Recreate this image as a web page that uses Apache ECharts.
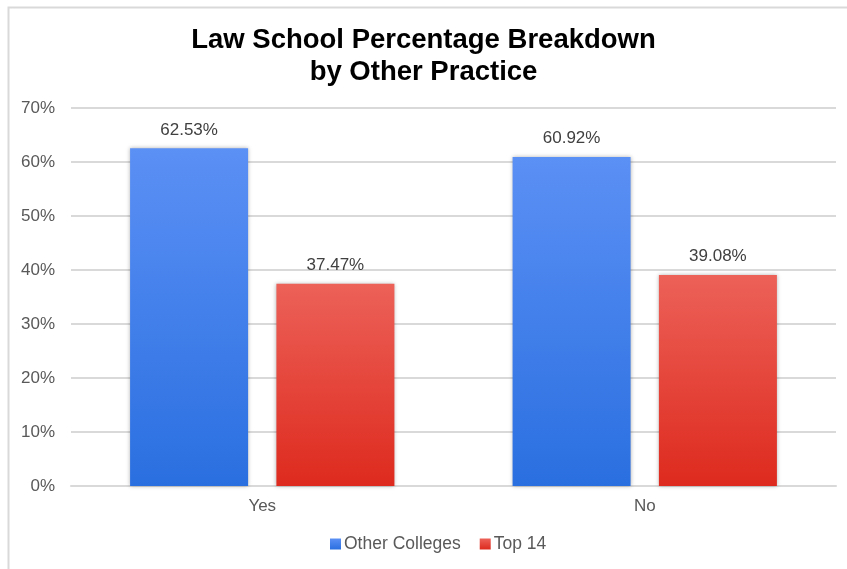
<!DOCTYPE html>
<html>
<head>
<meta charset="utf-8">
<script src="https://cdn.jsdelivr.net/npm/echarts@6/dist/echarts.min.js"></script>
<style>
  html, body { margin: 0; padding: 0; background: #fff; }
  #chart { width: 847px; height: 569px; }
</style>
</head>
<body>
<div id="chart"></div>
<script>
// Share of respondents per answer, by school group
const categories = ['Yes', 'No'];
const otherColleges = [62.53, 60.92];
const top14 = [37.47, 39.08];
const yTicks = [0, 10, 20, 30, 40, 50, 60, 70];

const FONT = '"Liberation Sans", Arial, Helvetica, sans-serif';

function grad(top, bottom) {
  return new echarts.graphic.LinearGradient(0, 0, 0, 1, [
    { offset: 0, color: top },
    { offset: 1, color: bottom }
  ]);
}

const chart = echarts.init(document.getElementById('chart'), null, { renderer: 'canvas' });

const labelStyle = {
  show: true,
  position: 'top',
  distance: 10,
  color: '#404040',
  fontFamily: FONT,
  fontSize: 17,
  formatter: p => p.value.toFixed(2) + '%'
};

chart.setOption({
  animation: false,
  backgroundColor: '#fff',
  graphic: [{
    type: 'rect',
    left: 6, top: 5,
    shape: { width: 900, height: 600 },
    style: { fill: 'none', stroke: '#d9d9d9', lineWidth: 2 },
    silent: true,
    z: -1
  }],
  title: {
    text: 'Law School Percentage Breakdown\nby Other Practice',
    left: 'center',
    top: 19,
    padding: [5, 0, 5, 14],
    textStyle: {
      fontFamily: FONT,
      fontWeight: 'bold',
      fontSize: 27.5,
      color: '#000',
      lineHeight: 32
    }
  },
  legend: {
    bottom: 11,
    left: 325,
    itemWidth: 11,
    itemHeight: 11,
    itemGap: 19,
    icon: 'rect',
    textStyle: { fontFamily: FONT, fontSize: 17.5, color: '#595959', padding: [0, 0, 0, -2] },
    data: ['Other Colleges', 'Top 14']
  },
  grid: { left: 71, right: 11, top: 108, bottom: 83 },
  xAxis: {
    type: 'category',
    data: categories,
    axisLine: { show: true, lineStyle: { color: '#d9d9d9', width: 2 } },
    axisTick: { show: false },
    axisLabel: { color: '#595959', fontFamily: FONT, fontSize: 17, margin: 12 }
  },
  yAxis: {
    type: 'value',
    min: yTicks[0],
    max: yTicks[yTicks.length - 1],
    interval: 10,
    axisLine: { show: false },
    axisTick: { show: false },
    splitLine: { lineStyle: { color: '#d9d9d9', width: 2 } },
    axisLabel: {
      color: '#595959', fontFamily: FONT, fontSize: 17, margin: 16,
      formatter: v => v + '%'
    }
  },
  series: [
    {
      name: 'Other Colleges',
      type: 'bar',
      data: otherColleges,
      barWidth: 118,
      barGap: '24%',
      itemStyle: {
        color: grad('#5b90f5', '#2a6fe0'),
        shadowColor: 'rgba(0,0,0,0.3)',
        shadowBlur: 4
      },
      label: labelStyle
    },
    {
      name: 'Top 14',
      type: 'bar',
      data: top14,
      barWidth: 118,
      barGap: '24%',
      itemStyle: {
        color: grad('#ec6158', '#de2a1e'),
        shadowColor: 'rgba(0,0,0,0.3)',
        shadowBlur: 4
      },
      label: labelStyle
    }
  ]
});
</script>
</body>
</html>
